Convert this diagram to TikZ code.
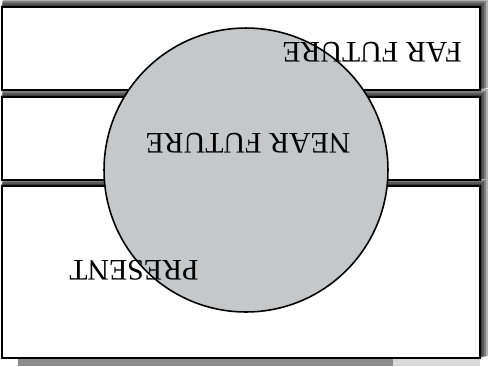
\documentclass[tikz,border=0pt]{standalone}
\usepackage{fontspec}
\setmainfont{Liberation Serif}
\tikzset{
  zone/.style={draw, line width=1.1pt, fill=white, minimum width=9.56cm, inner sep=0pt},
  label/.style={rotate=180, font=\fontsize{17}{20}\selectfont, text=black, inner sep=0pt}
}
\begin{document}
\begin{tikzpicture}[x=0.02cm, y=-0.02cm]
\useasboundingbox (0,0) rectangle (490,366);
% strip under the bottom box
\fill[black!45] (18,358) rectangle (393,366);
\fill[black!15] (393,358) rectangle (480,366);
% soft shadows of the bands
\foreach \up/\down in {7/90, 97/180, 186/358} {
  \foreach \d in {2,4,6,8}
    \fill[black, opacity=0.3] (1+\d/4,\up-\d) rectangle (480+\d,\down-\d/4);
}
% the three bands
\node[zone, minimum height=1.66cm] (far) at (241,48.5) {};
\node[zone, minimum height=1.66cm] (near) at (241,138.5) {};
\node[zone, minimum height=3.44cm] (present) at (241,272) {};
% the disc
\node[draw, line width=0.9pt, circle, fill={rgb,255:red,198;green,199;blue,201}, minimum size=5.68cm, inner sep=0pt] (disc) at (246,170) {};
% texts, upside down
\node[label] (farlabel) at (372,52) {FAR FUTURE};
\node[label] (nearlabel) at (248,143) {NEAR FUTURE};
\node[label] (presentlabel) at (134,270) {PRESENT};
\end{tikzpicture}
\end{document}
